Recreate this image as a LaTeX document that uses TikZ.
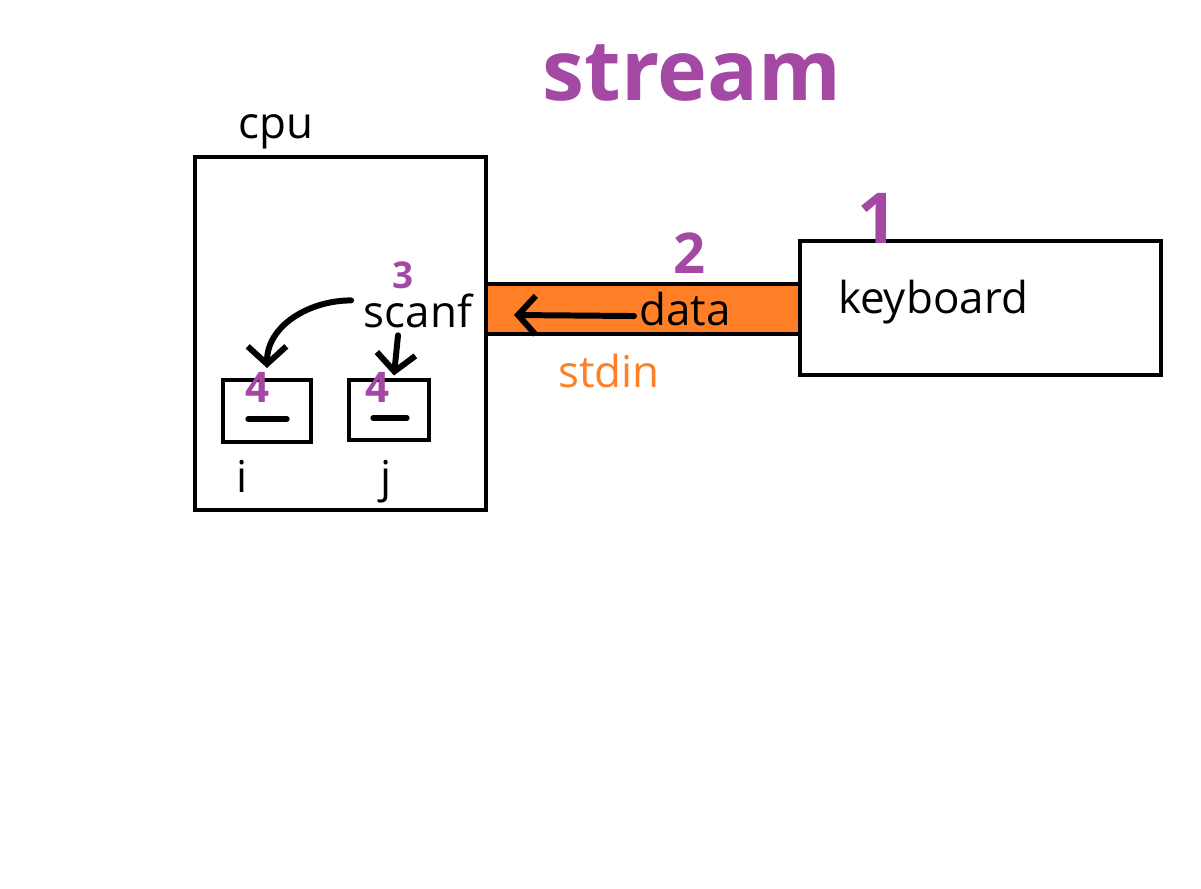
\documentclass[tikz,border=0pt]{standalone}
\usepackage{fontspec}
\setmainfont{Open Sans}
\usetikzlibrary{arrows.meta}
\definecolor{penpurple}{RGB}{163,73,164}
\definecolor{pipeorange}{RGB}{255,127,39}
\begin{document}
\begin{tikzpicture}[x=0.02cm,y=-0.02cm,
    box/.style={draw,line width=2.3pt,inner sep=0pt},
    lbl/.style={font=\fontsize{25}{30}\selectfont,inner sep=0pt,anchor=base},
    pen/.style={text=penpurple,inner sep=0pt,anchor=base},
    arr/.style={line width=3.4pt,line cap=round,-{Straight Barb[length=10pt,width=22pt]}}]
    \useasboundingbox (0,0) rectangle (1201,889);

    % the stream between keyboard and cpu
    \node[box,fill=pipeorange,minimum width=6.28cm,minimum height=1cm] (pipe) at (643,309) {};
    \node[box,minimum width=5.82cm,minimum height=7.06cm] (cpu) at (340.5,333.5) {};
    \node[box,minimum width=7.22cm,minimum height=2.68cm] (kbd) at (980.5,308) {};

    \node[lbl] (cpulbl) at (276,138) {cpu};
    \node[lbl] (kbdlbl) at (933,313) {keyboard};
    \node[lbl] (data) at (685,325) {data};
    \node[lbl,text=pipeorange] (stdin) at (609,387) {stdin};
    \node[lbl] (scanf) at (418,327) {scanf};

    % variables
    \node[box,minimum width=1.76cm,minimum height=1.24cm] (ibox) at (267,411) {};
    \node[box,minimum width=1.6cm,minimum height=1.2cm] (jbox) at (389,410) {};
    \node[lbl] (ilbl) at (242,492) {i};
    \node[lbl] (jlbl) at (386,492) {j};
    \draw[line width=3pt,line cap=round] (248,419) -- (287,419);
    \draw[line width=3pt,line cap=round] (373,418) -- (407,418);

    % handwritten steps
    \node[pen,font=\fontsize{48}{56}\selectfont\bfseries] (title) at (692,100) {stream};
    \node[pen,font=\fontsize{40}{48}\selectfont\bfseries] (one) at (878,243) {1};
    \node[pen,font=\fontsize{32}{38}\selectfont\bfseries] (two) at (690,273) {2};
    \node[pen,font=\fontsize{21}{26}\selectfont\bfseries] (three) at (403,288) {3};
    \node[pen,font=\fontsize{24}{28}\selectfont\bfseries] (fouri) at (258,402) {4};
    \node[pen,font=\fontsize{24}{28}\selectfont\bfseries] (fourj) at (378,402) {4};

    \draw[arr] ([xshift=-0.1cm,yshift=-0.15cm]data.west) -- ([xshift=0.6cm,yshift=-0.12cm]pipe.west);
    \draw[arr] ([xshift=-0.25cm,yshift=0.2cm]scanf.west) to[out=180,in=90] ([yshift=0.2cm]ibox.north);
    \draw[arr] ([xshift=-0.4cm,yshift=-0.15cm]scanf.south) -- ([xshift=0.1cm,yshift=0.05cm]jbox.north);
\end{tikzpicture}
\end{document}
